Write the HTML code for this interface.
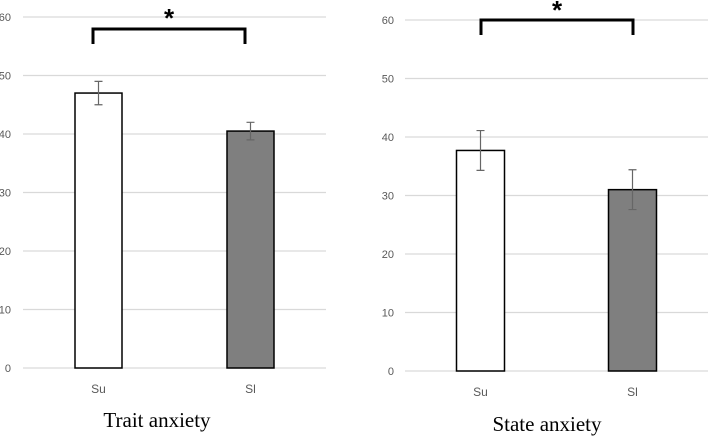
<!DOCTYPE html>
<html><head><meta charset="utf-8"><style>
html,body{margin:0;padding:0;background:#fff;}
svg{display:block;}
</style></head><body>
<svg id="chart" width="708" height="436" viewBox="0 0 708 436" xmlns="http://www.w3.org/2000/svg"></svg>
<script>
const categories = ["Su", "Sl"];
const traitValues = [47, 40.5];
const traitErrors = [2, 1.5];
const stateValues = [37.7, 31];
const stateErrors = [3.4, 3.4];
const yTicks = [0, 10, 20, 30, 40, 50, 60];
const fills = ["#ffffff", "#7f7f7f"];
const svg = document.getElementById('chart');
const NS = 'http://www.w3.org/2000/svg';
function mk(tag, attrs, parent) {
  const e = document.createElementNS(NS, tag);
  for (const k in attrs) e.setAttribute(k, attrs[k]);
  (parent || svg).appendChild(e);
  return e;
}
function drawPanel(cfg, values, errors, title, key) {
  const g = mk('g', {});
  
  
  const y = v => cfg.y0 + (cfg.y60 - cfg.y0) * v / 60;
  yTicks.forEach(t => {
    const l = mk('line', {x1: cfg.gx0, x2: cfg.gx1, y1: y(t), y2: y(t), stroke: '#d9d9d9', 'stroke-width': 1.3}, g);
    
    
    const tx = mk('text', {x: cfg.labelX, y: y(t) + 4, 'text-anchor': 'end', 'font-size': 11, fill: '#595959', 'font-family': 'Liberation Sans, sans-serif'}, g);
    tx.textContent = t;
    
    
  });
  categories.forEach((c, i) => {
    const cx = cfg.cx[i];
    const r = mk('rect', {x: cx - cfg.bw / 2, y: y(values[i]), width: cfg.bw, height: y(0) - y(values[i]), fill: fills[i], stroke: '#000', 'stroke-width': 1.5}, g);
    
    
    const hi = y(values[i] + errors[i]), lo = y(values[i] - errors[i]);
    const eb = mk('path', {d: `M${cx},${hi}V${lo}M${cx-4},${hi}H${cx+4}M${cx-4},${lo}H${cx+4}`, stroke: '#666', 'stroke-width': 1.2, fill: 'none'}, g);
    
    
    const lb = mk('text', {x: cx, y: cfg.catY, 'text-anchor': 'middle', 'font-size': 12, fill: '#595959', 'font-family': 'Liberation Sans, sans-serif'}, g);
    lb.textContent = c;
    
    
  });
  const b = mk('path', {d: `M${cfg.bx[0]},${cfg.brB}V${cfg.brT}H${cfg.bx[1]}V${cfg.brB}`, stroke: '#000', 'stroke-width': 3, fill: 'none'}, g);
  
  
  const st = mk('text', {x: (cfg.bx[0] + cfg.bx[1]) / 2, y: cfg.starY, 'text-anchor': 'middle', 'font-size': 26, 'font-weight': 'bold', fill: '#000', 'font-family': 'Liberation Sans, sans-serif'}, g);
  st.textContent = '*';
  
  
  const tt = mk('text', {x: cfg.titleX, y: cfg.titleY, 'text-anchor': 'middle', 'font-size': 21, fill: '#000', 'font-family': 'Liberation Serif, serif'}, g);
  tt.textContent = title;
  
  
}
drawPanel({y0: 368, y60: 17, gx0: 23, gx1: 326, labelX: 11, cx: [98.5, 250.5], bx: [93, 245], bw: 47, catY: 393, brT: 29, brB: 44, starY: 27, titleX: 157, titleY: 427}, traitValues, traitErrors, 'Trait anxiety', 'trait');
drawPanel({y0: 371, y60: 20, gx0: 405, gx1: 708, labelX: 394, cx: [480.5, 632.5], bx: [481, 633], bw: 48, catY: 396, brT: 20, brB: 35, starY: 19, titleX: 547, titleY: 431}, stateValues, stateErrors, 'State anxiety', 'state');
</script>
</body></html>
